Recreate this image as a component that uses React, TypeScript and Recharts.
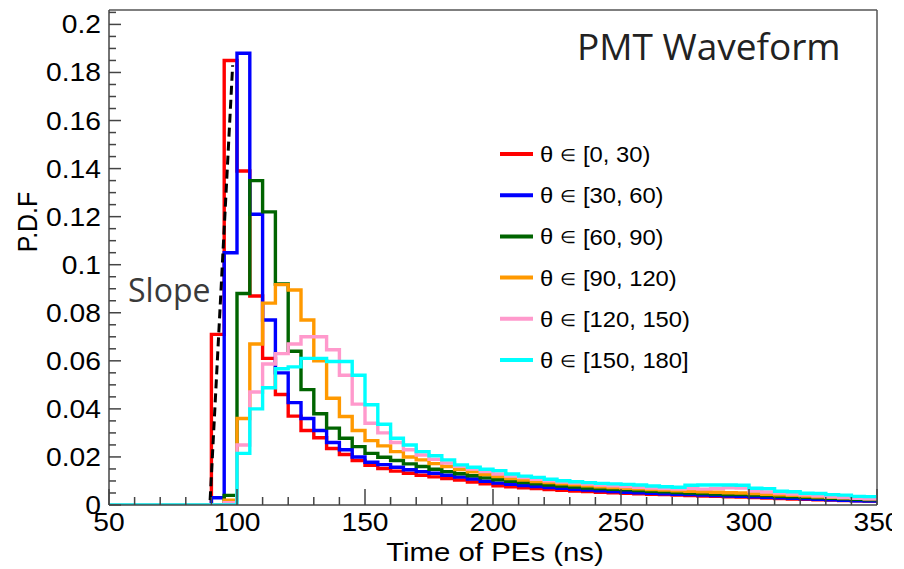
import React from 'react';
import { ComposedChart, Line, XAxis, YAxis, ReferenceLine, Customized } from 'recharts';

const W = 892;
const H = 569;
const X_MIN = 50;
const X_MAX = 350;
const BIN = 5;
const Y_MAX = 0.206;

// bin lower edges (ns)
const binStarts: number[] = Array.from({ length: 60 }, (_, i) => X_MIN + i * BIN);

const red = [0, 0, 0, 0, 0, 0, 0, 0,
  0.071, 0.185, 0.139, 0.087, 0.061, 0.046, 0.037, 0.031, 0.028, 0.0235, 0.021, 0.0185, 0.0165,
  0.0152, 0.0141, 0.0132, 0.0124, 0.0117, 0.0110, 0.0104, 0.0096, 0.0088, 0.0080,
  0.0076, 0.0072, 0.0068, 0.0064, 0.0061, 0.0058, 0.0056, 0.0053, 0.0051, 0.0049,
  0.0047, 0.0045, 0.0043, 0.0041, 0.0039, 0.0037, 0.0036, 0.0034, 0.0033, 0.0031,
  0.0029, 0.0027, 0.0025, 0.0024, 0.0022, 0.0021, 0.0019, 0.0018, 0.0016];

const blue = [0, 0, 0, 0, 0, 0, 0, 0,
  0.003, 0.105, 0.188, 0.121, 0.077, 0.055, 0.0426, 0.036, 0.031, 0.026, 0.023, 0.020, 0.0178,
  0.0168, 0.0157, 0.0147, 0.0139, 0.0132, 0.0124, 0.0116, 0.0108, 0.0099, 0.0091,
  0.0086, 0.0081, 0.0077, 0.0073, 0.0069, 0.0065, 0.0062, 0.0059, 0.0056, 0.0053,
  0.0051, 0.0049, 0.0047, 0.0045, 0.0043, 0.0041, 0.0039, 0.0037, 0.0036, 0.0034,
  0.0032, 0.0030, 0.0028, 0.0026, 0.0024, 0.0022, 0.0020, 0.0018, 0.0016];

const green = [0, 0, 0, 0, 0, 0, 0, 0, 0,
  0.004, 0.088, 0.135, 0.122, 0.092, 0.064, 0.048, 0.038, 0.032, 0.0278, 0.0243, 0.0215,
  0.0199, 0.0185, 0.0171, 0.016, 0.0149, 0.0139, 0.013, 0.0122, 0.0113, 0.0105,
  0.0099, 0.0093, 0.0088, 0.0083, 0.0079, 0.0075, 0.0071, 0.0068, 0.0065, 0.0063,
  0.006, 0.0057, 0.0055, 0.0052, 0.005, 0.0048, 0.0046, 0.0044, 0.0043, 0.0041,
  0.0039, 0.0036, 0.0034, 0.0032, 0.003, 0.0028, 0.0026, 0.0024, 0.0022];

const orange = [0, 0, 0, 0, 0, 0, 0, 0, 0,
  0.002, 0.036, 0.067, 0.084, 0.0917, 0.0895, 0.077, 0.060, 0.0444, 0.0368, 0.031, 0.0268,
  0.0246, 0.0222, 0.020, 0.0188, 0.0172, 0.016, 0.0148, 0.0138, 0.0127, 0.0118,
  0.011, 0.0104, 0.0098, 0.0093, 0.0088, 0.0084, 0.008, 0.0076, 0.0073, 0.007,
  0.0067, 0.0064, 0.0062, 0.0059, 0.0057, 0.0055, 0.0053, 0.0051, 0.005, 0.0048,
  0.0045, 0.0042, 0.004, 0.0037, 0.0034, 0.0032, 0.003, 0.0028, 0.0026];

const pink = [0, 0, 0, 0, 0, 0, 0, 0, 0,
  0.001, 0.025, 0.047, 0.0587, 0.063, 0.067, 0.070, 0.070, 0.0646, 0.054, 0.042,
  0.034, 0.030, 0.026, 0.023, 0.0208, 0.019, 0.0175, 0.0161, 0.015, 0.0139,
  0.0129, 0.0121, 0.0114, 0.0107, 0.0101, 0.0096, 0.0091, 0.0087, 0.0083, 0.008,
  0.0077, 0.0074, 0.0071, 0.0068, 0.0066, 0.0068, 0.0066, 0.0068, 0.0072, 0.0071,
  0.0058, 0.0054, 0.005, 0.0046, 0.0042, 0.0038, 0.0034, 0.0031, 0.0028, 0.0026];

const cyan = [0, 0, 0, 0, 0, 0, 0, 0, 0, 0,
  0.0215, 0.040, 0.0488, 0.0567, 0.0575, 0.061, 0.061, 0.0597, 0.0597, 0.054,
  0.0417, 0.0336, 0.0278, 0.025, 0.0222, 0.0205, 0.0188, 0.0167, 0.0157, 0.0149,
  0.0143, 0.0129, 0.012, 0.0115, 0.0107, 0.0101, 0.0097, 0.0093, 0.009, 0.0088,
  0.0086, 0.0083, 0.0079, 0.0076, 0.0074, 0.0082, 0.0083, 0.0083, 0.0083, 0.0082,
  0.007, 0.0068, 0.0057, 0.0055, 0.0049, 0.0048, 0.0043, 0.0041, 0.0036, 0.0035];

const seriesKeys = ['red', 'blue', 'green', 'orange', 'pink', 'cyan'];
const seriesValues = [red, blue, green, orange, pink, cyan];
const seriesColors = ['#ff0000', '#0000ff', '#006400', '#ff9900', '#ff99cc', '#00ffff'];
const seriesRanges = ['[0, 30)', '[30, 60)', '[60, 90)', '[90, 120)', '[120, 150)', '[150, 180]'];

const xMajorTicks = [50, 100, 150, 200, 250, 300, 350];
const xTickLabels = ['50', '100', '150', '200', '250', '300', '350'];
const yMajorTicks = [0, 0.02, 0.04, 0.06, 0.08, 0.1, 0.12, 0.14, 0.16, 0.18, 0.2];
const yTickLabels = ['0', '0.02', '0.04', '0.06', '0.08', '0.1', '0.12', '0.14', '0.16', '0.18', '0.2'];
const xMinorTicks: number[] = Array.from({ length: 31 }, (_, i) => X_MIN + i * 10);
const yMinorTicks: number[] = Array.from({ length: 42 }, (_, i) => (i * 5) / 1000);

const slopeSegment = [{ x: 89.5, y: 0.002 }, { x: 98.3, y: 0.183 }];

const table = [
  ...binStarts.map((t, i) => {
    const row: Record<string, number> = { t };
    seriesKeys.forEach((k, s) => { row[k] = seriesValues[s][i]; });
    return row;
  }),
  (() => {
    const row: Record<string, number> = { t: X_MAX };
    seriesKeys.forEach((k, s) => { row[k] = seriesValues[s][seriesValues[s].length - 1]; });
    return row;
  })(),
];

const FONT = "'Liberation Sans', Arial, Helvetica, sans-serif";
const AXIS = '#444';
const STRETCH = 1.13;

const YTick = (props: any) => {
  const { x, y, payload } = props;
  const v = payload.value as number;
  const idx = yMajorTicks.findIndex((m) => Math.abs(m - v) < 1e-9);
  const major = idx >= 0;
  return (
    <g>
      <line x1={x} y1={y} x2={x + (major ? 12 : 7)} y2={y} stroke={AXIS} strokeWidth={1.5} />
      {major && (
        <text transform={`translate(${x - 8},${y}) scale(${STRETCH},1)`} textAnchor="end" dy="0.36em"
          fontSize={25} fontFamily={FONT} fill="#000">{yTickLabels[idx]}</text>
      )}
    </g>
  );
};

const XTick = (props: any) => {
  const { x, y, payload } = props;
  const v = payload.value as number;
  const idx = xMajorTicks.indexOf(v);
  const major = idx >= 0;
  return (
    <g>
      <line x1={x} y1={y} x2={x} y2={y - (major ? 16 : 8)} stroke={AXIS} strokeWidth={1.5} />
      {major && (
        <text transform={`translate(${x},${y + 26}) scale(${STRETCH},1.05)`} textAnchor="middle"
          fontSize={25} fontFamily={FONT} fill="#000">{xTickLabels[idx]}</text>
      )}
    </g>
  );
};

const Overlay = () => (
  <g>
    <text transform={`translate(495,561) scale(${STRETCH},1)`} textAnchor="middle" fontSize={26}
      fontFamily={FONT} fill="#000">Time of PEs (ns)</text>
    <text transform={`translate(37,222) scale(${STRETCH},1) rotate(-90)`} textAnchor="middle"
      fontSize={25} fontFamily={FONT} fill="#000">P.D.F</text>
    <text x={128} y={302} fontSize={32} fontFamily="'Open Sans', sans-serif" fill="#3a3a3a">Slope</text>
    <text x={577} y={60} fontSize={37} fontFamily="'Open Sans', sans-serif" fill="#222">PMT Waveform</text>
    {seriesRanges.map((range, i) => {
      const cy = 154 + i * 41.2;
      return (
        <g key={range}>
          <line x1={500} x2={533} y1={cy} y2={cy} stroke={seriesColors[i]} strokeWidth={4} />
          <text transform={`translate(540,${cy}) scale(1.08,1)`} dy="0.36em" fontSize={22}
            fontFamily={FONT} fill="#000">
            <tspan>θ </tspan>
            <tspan fontSize={17} dy="-0.05em">∈</tspan>
            <tspan dy="0.05em"> {range}</tspan>
          </text>
        </g>
      );
    })}
  </g>
);

export default function App() {
  return (
    <div style={{ position: 'absolute', left: 0, top: 0, width: W, height: H, background: '#fff' }}>
      <ComposedChart width={W} height={H} data={table} margin={{ top: 10, right: W - 877, left: 9, bottom: 0 }}>
        <XAxis dataKey="t" type="number" domain={[X_MIN, X_MAX]} ticks={xMinorTicks} interval={0}
          tick={<XTick />} tickLine={false} tickSize={0} tickMargin={0} height={64}
          axisLine={{ stroke: AXIS, strokeWidth: 1.5 }} allowDataOverflow />
        <YAxis type="number" domain={[0, Y_MAX]} ticks={yMinorTicks} interval={0} tick={<YTick />}
          tickLine={false} tickSize={0} tickMargin={0} width={100}
          axisLine={{ stroke: AXIS, strokeWidth: 1.5 }} allowDataOverflow />
        <ReferenceLine y={Y_MAX} stroke="#555" strokeWidth={1.5} />
        <ReferenceLine x={X_MAX} stroke="#555" strokeWidth={1.5} />
        {seriesKeys.map((k, i) => (
          <Line key={k} type="stepAfter" dataKey={k} stroke={seriesColors[i]} strokeWidth={3.4}
            dot={false} activeDot={false} isAnimationActive={false} strokeLinejoin="miter" />
        ))}
        <ReferenceLine segment={slopeSegment} stroke="#000" strokeWidth={3} strokeDasharray="9 5" ifOverflow="visible" />
        <Customized component={Overlay} />
      </ComposedChart>
    </div>
  );
}
